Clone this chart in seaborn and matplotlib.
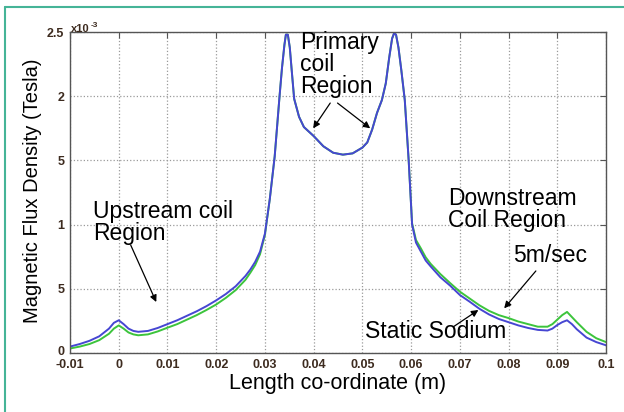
import numpy as np
import pandas as pd
import matplotlib
matplotlib.use("Agg")
import matplotlib.pyplot as plt
from matplotlib.lines import Line2D
from matplotlib.transforms import ScaledTranslation
import seaborn as sns

# ─────────────────────────────────────────────
# DATA (flux density in units of 1e-3 Tesla)
# ─────────────────────────────────────────────

position = [
    -0.010, -0.008, -0.006, -0.004, -0.002, -0.001, 0.000, 0.001, 0.002, 0.003,
    0.004, 0.006, 0.008, 0.010, 0.012, 0.014, 0.016, 0.018, 0.020, 0.022,
    0.024, 0.026, 0.027, 0.028, 0.029, 0.030, 0.031, 0.032, 0.033, 0.0335,
    0.034, 0.0343, 0.0347, 0.0351, 0.0355, 0.036, 0.037, 0.038, 0.040, 0.042,
    0.044, 0.046, 0.048, 0.050, 0.051, 0.052, 0.053, 0.054, 0.0548, 0.0555,
    0.0561, 0.0565, 0.0569, 0.0574, 0.058, 0.0587, 0.0595, 0.0602, 0.061, 0.062,
    0.063, 0.064, 0.066, 0.068, 0.070, 0.072, 0.074, 0.076, 0.078, 0.080,
    0.082, 0.084, 0.086, 0.088, 0.089, 0.090, 0.091, 0.092, 0.093, 0.094,
    0.096, 0.098, 0.100,
]

static_sodium = [
    0.050, 0.070, 0.095, 0.130, 0.190, 0.235, 0.255, 0.225, 0.190, 0.172,
    0.165, 0.172, 0.195, 0.225, 0.255, 0.290, 0.325, 0.365, 0.410, 0.460,
    0.520, 0.600, 0.650, 0.710, 0.790, 0.930, 1.200, 1.530, 2.000, 2.220,
    2.400, 2.480, 2.480, 2.380, 2.200, 1.980, 1.840, 1.760, 1.690, 1.610,
    1.560, 1.545, 1.555, 1.600, 1.640, 1.740, 1.870, 1.970, 2.100, 2.300,
    2.450, 2.490, 2.480, 2.380, 2.200, 1.970, 1.500, 1.000, 0.860, 0.790,
    0.720, 0.675, 0.590, 0.525, 0.452, 0.400, 0.345, 0.300, 0.265, 0.240,
    0.215, 0.195, 0.180, 0.175, 0.190, 0.218, 0.240, 0.255, 0.225, 0.185,
    0.120, 0.085, 0.060,
]

flow_5ms = [
    0.035, 0.050, 0.070, 0.100, 0.150, 0.190, 0.215, 0.190, 0.160, 0.145,
    0.138, 0.145, 0.168, 0.197, 0.225, 0.260, 0.295, 0.335, 0.378, 0.430,
    0.490, 0.570, 0.625, 0.685, 0.770, 0.920, 1.200, 1.530, 2.000, 2.220,
    2.400, 2.480, 2.480, 2.380, 2.200, 1.980, 1.840, 1.760, 1.690, 1.610,
    1.560, 1.545, 1.555, 1.600, 1.640, 1.740, 1.870, 1.970, 2.100, 2.300,
    2.450, 2.490, 2.480, 2.380, 2.200, 1.970, 1.500, 1.010, 0.880, 0.815,
    0.745, 0.695, 0.615, 0.545, 0.478, 0.425, 0.372, 0.328, 0.295, 0.272,
    0.245, 0.225, 0.205, 0.205, 0.225, 0.260, 0.295, 0.320, 0.280, 0.240,
    0.165, 0.115, 0.085,
]

x_ticks = [-0.01, 0, 0.01, 0.02, 0.03, 0.04, 0.05, 0.06, 0.07, 0.08, 0.09, 0.1]
x_tick_labels = ["-0.01", "0", "0.01", "0.02", "0.03", "0.04", "0.05",
                 "0.06", "0.07", "0.08", "0.09", "0.1"]
y_ticks = [0, 0.5, 1.0, 1.5, 2.0, 2.5]
y_tick_labels = ["0", "5", "1", "5", "2", "2.5"]

# ─────────────────────────────────────────────
# STYLE
# ─────────────────────────────────────────────

sns.set_theme(style="white")
plt.rcParams["font.family"] = ["Liberation Sans", "DejaVu Sans"]

BLUE = "#4646d2"
GREEN = "#3cc43c"
TICK_COL = "#3d2b1f"
FRAME = "#45b497"

df = pd.DataFrame({
    "x": position * 2,
    "B": flow_5ms + static_sodium,
    "case": ["5m/sec"] * len(position) + ["Static"] * len(position),
})

fig = plt.figure(figsize=(6.24, 4.12), dpi=100)
fig.patch.set_facecolor("white")
ax = fig.add_axes([0.1122, 0.1432, 0.859, 0.779])

sns.lineplot(data=df, x="x", y="B", hue="case", sort=False,
             palette={"5m/sec": GREEN, "Static": BLUE},
             hue_order=["5m/sec", "Static"], linewidth=1.4,
             legend=False, ax=ax)

ax.set_xlim(-0.01, 0.1)
ax.set_ylim(0, 2.5)
ax.set_xticks(x_ticks)
ax.set_xticklabels(x_tick_labels)
ax.set_yticks(y_ticks)
ax.set_yticklabels(y_tick_labels)
ax.tick_params(direction="in", length=4, width=0.8, color="#555555",
               labelsize=9, labelcolor=TICK_COL, pad=4,
               top=True, right=True)
for lab in ax.get_xticklabels() + ax.get_yticklabels():
    lab.set_fontweight("bold")

# lift the "0" on the y axis a little, as in the original
zero_lab = ax.get_yticklabels()[0]
zero_lab.set_transform(zero_lab.get_transform()
                       + ScaledTranslation(0, 3 / 100, fig.dpi_scale_trans))

ax.grid(True, linestyle=":", color="#9a9a9a", linewidth=0.9)
for sp in ax.spines.values():
    sp.set_color("#555555")
    sp.set_linewidth(1.0)

ax.set_xlabel("Length co-ordinate (m)", fontsize=15.5, color="black")
ax.xaxis.set_label_coords(0.5, -0.062)
ax.set_ylabel("Magnetic Flux Density (Tesla)", fontsize=14.5, color="black")
ax.yaxis.set_label_coords(-0.052, 0.505)

# exponent above the y axis
fig.text(71 / 624, 1 - 32 / 412, "x10", fontsize=8, fontweight="bold",
         color=TICK_COL, ha="left", va="baseline")
fig.text(91 / 624, 1 - 27 / 412, "-3", fontsize=6, fontweight="bold",
         color=TICK_COL, ha="left", va="baseline")

# ─────────────────────────────────────────────
# ANNOTATIONS
# ─────────────────────────────────────────────

TXT = dict(fontsize=16.5, color="black", linespacing=0.95)
ARROW = dict(arrowstyle="-|>", color="black", lw=0.9, mutation_scale=10,
             shrinkA=0, shrinkB=0)

ax.text(-0.0053, 1.19, "Upstream coil\nRegion", ha="left", va="top", **TXT)
ax.annotate("", xy=(0.0077, 0.397), xytext=(0.00245, 0.841), arrowprops=ARROW)

ax.text(0.0372, 2.51, "Primary\ncoil\nRegion", ha="left", va="top", **TXT)
ax.annotate("", xy=(0.0399, 1.75), xytext=(0.0434, 1.947), arrowprops=ARROW)
ax.annotate("", xy=(0.0516, 1.75), xytext=(0.0449, 1.947), arrowprops=ARROW)

ax.text(0.0676, 1.29, "Downstream\nCoil Region", ha="left", va="top", **TXT)

ax.text(0.081, 0.763, "5m/sec", ha="left", va="center", **TXT)
ax.annotate("", xy=(0.0791, 0.348), xytext=(0.0856, 0.639), arrowprops=ARROW)

ax.text(0.0505, 0.166, "Static Sodium", ha="left", va="center", **TXT)
ax.annotate("", xy=(0.0738, 0.335), xytext=(0.0687, 0.205), arrowprops=ARROW)

# teal frame (top and left edges)
fig.add_artist(Line2D([5 / 624, 1.0], [1 - 7 / 412, 1 - 7 / 412],
                      transform=fig.transFigure, color=FRAME, lw=1.5))
fig.add_artist(Line2D([5 / 624, 5 / 624], [0.0, 1 - 7 / 412],
                      transform=fig.transFigure, color=FRAME, lw=1.5))

fig.savefig("out.png", dpi=100)
